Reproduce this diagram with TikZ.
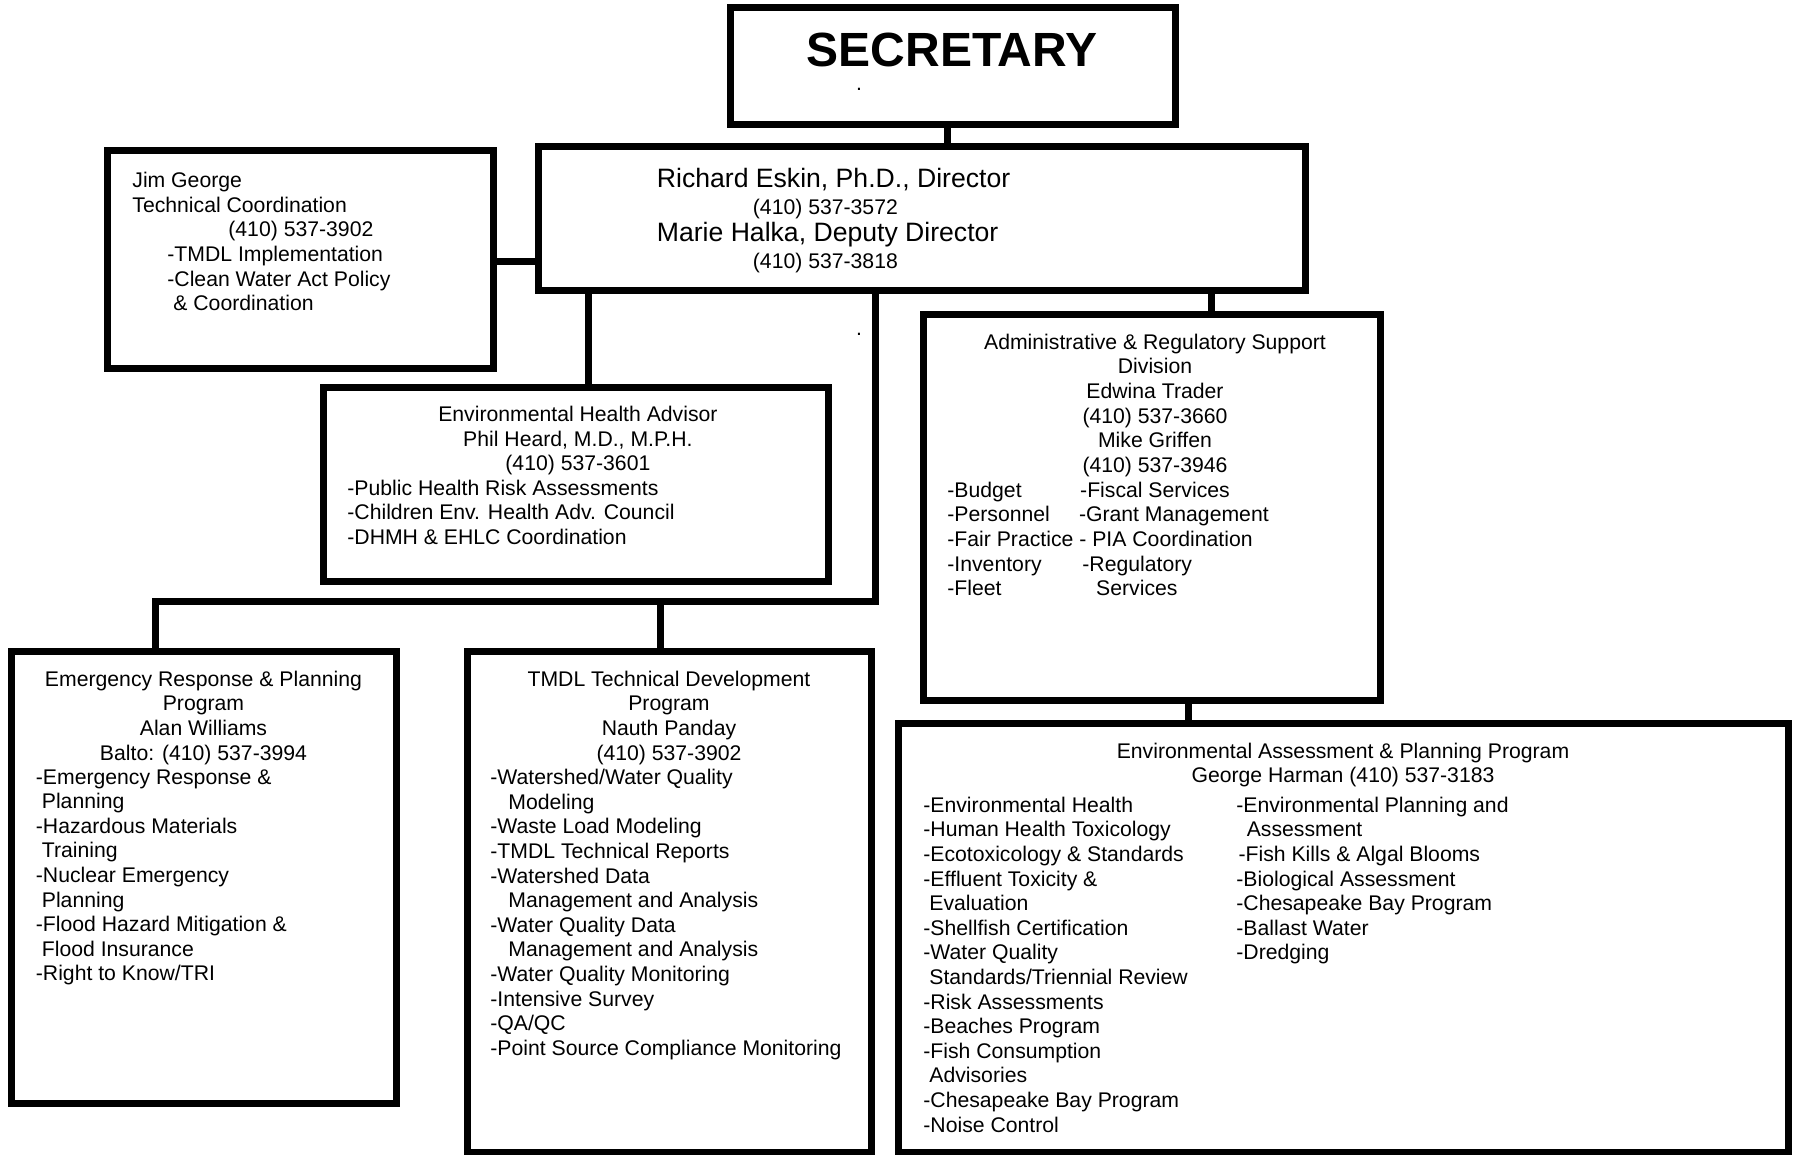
\documentclass[tikz,border=0pt]{standalone}
\usepackage{fontspec}
\setmainfont{Liberation Sans}

\begin{document}
\begin{tikzpicture}[
  x=0.5pt, y=-0.5pt,
  font=\fontsize{10.6}{12.3}\selectfont,
  box/.style={draw, rectangle, line width=3.5pt, inner sep=0pt},
  head/.style={align=center, anchor=north, inner sep=0pt},
  list/.style={align=left, anchor=north west, inner sep=0pt},
  conn/.style={line width=3.5pt}
]
  \useasboundingbox (0,0) rectangle (1796,1155);

  % Top of the chart
  \node[box, minimum width=222.5pt, minimum height=58.5pt] (sec) at (952.5,66.5) {};
  \node[inner sep=0pt, font=\fontsize{24}{28}\selectfont\bfseries] (sectitle) at (952,50) {SECRETARY};
  \node[inner sep=0pt] (secdot) at (859,89) {.};

  \node[box, minimum width=383.5pt, minimum height=72pt] (dir) at (921.5,219) {};
  \node[list, font=\fontsize{10.6}{13.6}\selectfont] (dirtext)
    at ([xshift=61pt,yshift=-12pt]dir.north west) {
    {\fontsize{13.3}{13.6}\selectfont Richard Eskin, Ph.D., Director}\\
    \hspace*{48pt}(410) 537-3572\\
    {\fontsize{13.3}{13.6}\selectfont Marie Halka, Deputy Director}\\
    \hspace*{48pt}(410) 537-3818
  };
  \node[inner sep=0pt] (dirdot) at (859,334) {.};

  % Staff next to the director
  \node[box, minimum width=193pt, minimum height=109pt] (jim) at (300,260) {};
  \node[list] (jimtext) at ([xshift=14.25pt,yshift=-12.25pt]jim.north west) {
    Jim George\\
    Technical Coordination\\
    \hspace*{48pt}(410) 537-3902\\
    \hspace*{17.5pt}-TMDL Implementation\\
    \hspace*{17.5pt}-Clean Water Act Policy\\
    \hspace*{20.5pt}\& Coordination
  };

  \node[box, minimum width=252.5pt, minimum height=96.5pt] (envh) at (575.5,484.5) {};
  \node[head] (envhhead) at ([xshift=1.2pt,yshift=-10.75pt]envh.north) {
    Environmental Health Advisor\\
    Phil Heard, M.D., M.P.H.\\
    (410) 537-3601
  };
  \node[list] (envhlist) at ([xshift=13.75pt,yshift=-47.5pt]envh.north west) {
    -Public Health Risk Assessments\\
    -Children Env. Health Adv. Council\\
    -DHMH \& EHLC Coordination
  };

  % Administrative division
  \node[box, minimum width=228.5pt, minimum height=192.5pt] (admin) at (1151.5,507.5) {};
  \node[head] (adminhead) at ([xshift=1.75pt,yshift=-11pt]admin.north) {
    Administrative \& Regulatory Support\\
    Division\\
    Edwina Trader\\
    (410) 537-3660\\
    Mike Griffen\\
    (410) 537-3946
  };
  \node[list] (adminleft) at ([xshift=13.75pt,yshift=-85pt]admin.north west) {
    -Budget\\
    -Personnel\\
    -Fair Practice\\
    -Inventory\\
    -Fleet
  };
  \node[list] (adminright) at ([xshift=77.25pt,yshift=-85pt]admin.north west) {
    \hspace*{2.9pt}-Fiscal Services\\
    \hspace*{2.3pt}-Grant Management\\
    \hspace*{2.5pt}- PIA Coordination\\
    \hspace*{4pt}-Regulatory\\
    \hspace*{10.9pt}Services
  };

  % Programs
  \node[box, minimum width=192.5pt, minimum height=226pt] (emerg) at (203.5,877) {};
  \node[head] (emerghead) at ([yshift=-11.5pt]emerg.north) {
    Emergency Response \& Planning\\
    Program\\
    Alan Williams\\
    Balto: (410) 537-3994
  };
  \node[list] (emerglist) at ([xshift=14pt,yshift=-60.75pt]emerg.north west) {
    -Emergency Response \&\\
    \hspace*{3pt}Planning\\
    -Hazardous Materials\\
    \hspace*{3pt}Training\\
    -Nuclear Emergency\\
    \hspace*{3pt}Planning\\
    -Flood Hazard Mitigation \&\\
    \hspace*{3pt}Flood Insurance\\
    -Right to Know/TRI
  };

  \node[box, minimum width=202pt, minimum height=250.5pt] (tmdl) at (669,901.5) {};
  \node[head] (tmdlhead) at ([yshift=-11.5pt]tmdl.north) {
    TMDL Technical Development\\
    Program\\
    Nauth Panday\\
    (410) 537-3902
  };
  \node[list] (tmdllist) at ([xshift=13.25pt,yshift=-60.75pt]tmdl.north west) {
    -Watershed/Water Quality\\
    \hspace*{9pt}Modeling\\
    -Waste Load Modeling\\
    -TMDL Technical Reports\\
    -Watershed Data\\
    \hspace*{9pt}Management and Analysis\\
    -Water Quality Data\\
    \hspace*{9pt}Management and Analysis\\
    -Water Quality Monitoring\\
    -Intensive Survey\\
    -QA/QC\\
    -Point Source Compliance Monitoring
  };

  \node[box, minimum width=445pt, minimum height=214.5pt] (eap) at (1343,937.5) {};
  \node[head] (eaphead) at ([yshift=-11.5pt]eap.north) {
    Environmental Assessment \& Planning Program\\
    George Harman (410) 537-3183
  };
  \node[list] (eapleft) at ([xshift=14.25pt,yshift=-38.5pt]eap.north west) {
    -Environmental Health\\
    -Human Health Toxicology\\
    -Ecotoxicology \& Standards\\
    -Effluent Toxicity \&\\
    \hspace*{3pt}Evaluation\\
    -Shellfish Certification\\
    -Water Quality\\
    \hspace*{3pt}Standards/Triennial Review\\
    -Risk Assessments\\
    -Beaches Program\\
    -Fish Consumption\\
    \hspace*{3pt}Advisories\\
    -Chesapeake Bay Program\\
    -Noise Control
  };
  \node[list] (eapright) at ([xshift=170.75pt,yshift=-38.5pt]eap.north west) {
    -Environmental Planning and\\
    \hspace*{5.2pt}Assessment\\
    \hspace*{1.1pt}-Fish Kills \& Algal Blooms\\
    -Biological Assessment\\
    -Chesapeake Bay Program\\
    -Ballast Water\\
    -Dredging
  };

  % Reporting lines
  \coordinate (bus) at (875,601);
  \draw[conn] (sec.south -| 947,0) -- (dir.north -| 947,0);
  \draw[conn] (jim.east |- 0,262) -- (dir.west |- 0,262);
  \draw[conn] (dir.south -| 588,0) -- (envh.north -| 588,0);
  \draw[conn] (dir.south -| bus) -- (bus) -- (bus -| 155,0) -- (emerg.north -| 155,0);
  \draw[conn] (bus -| 660,0) -- (tmdl.north -| 660,0);
  \draw[conn] (dir.south -| 1211,0) -- (admin.north -| 1211,0);
  \draw[conn] (admin.south -| 1188,0) -- (eap.north -| 1188,0);
\end{tikzpicture}
\end{document}
